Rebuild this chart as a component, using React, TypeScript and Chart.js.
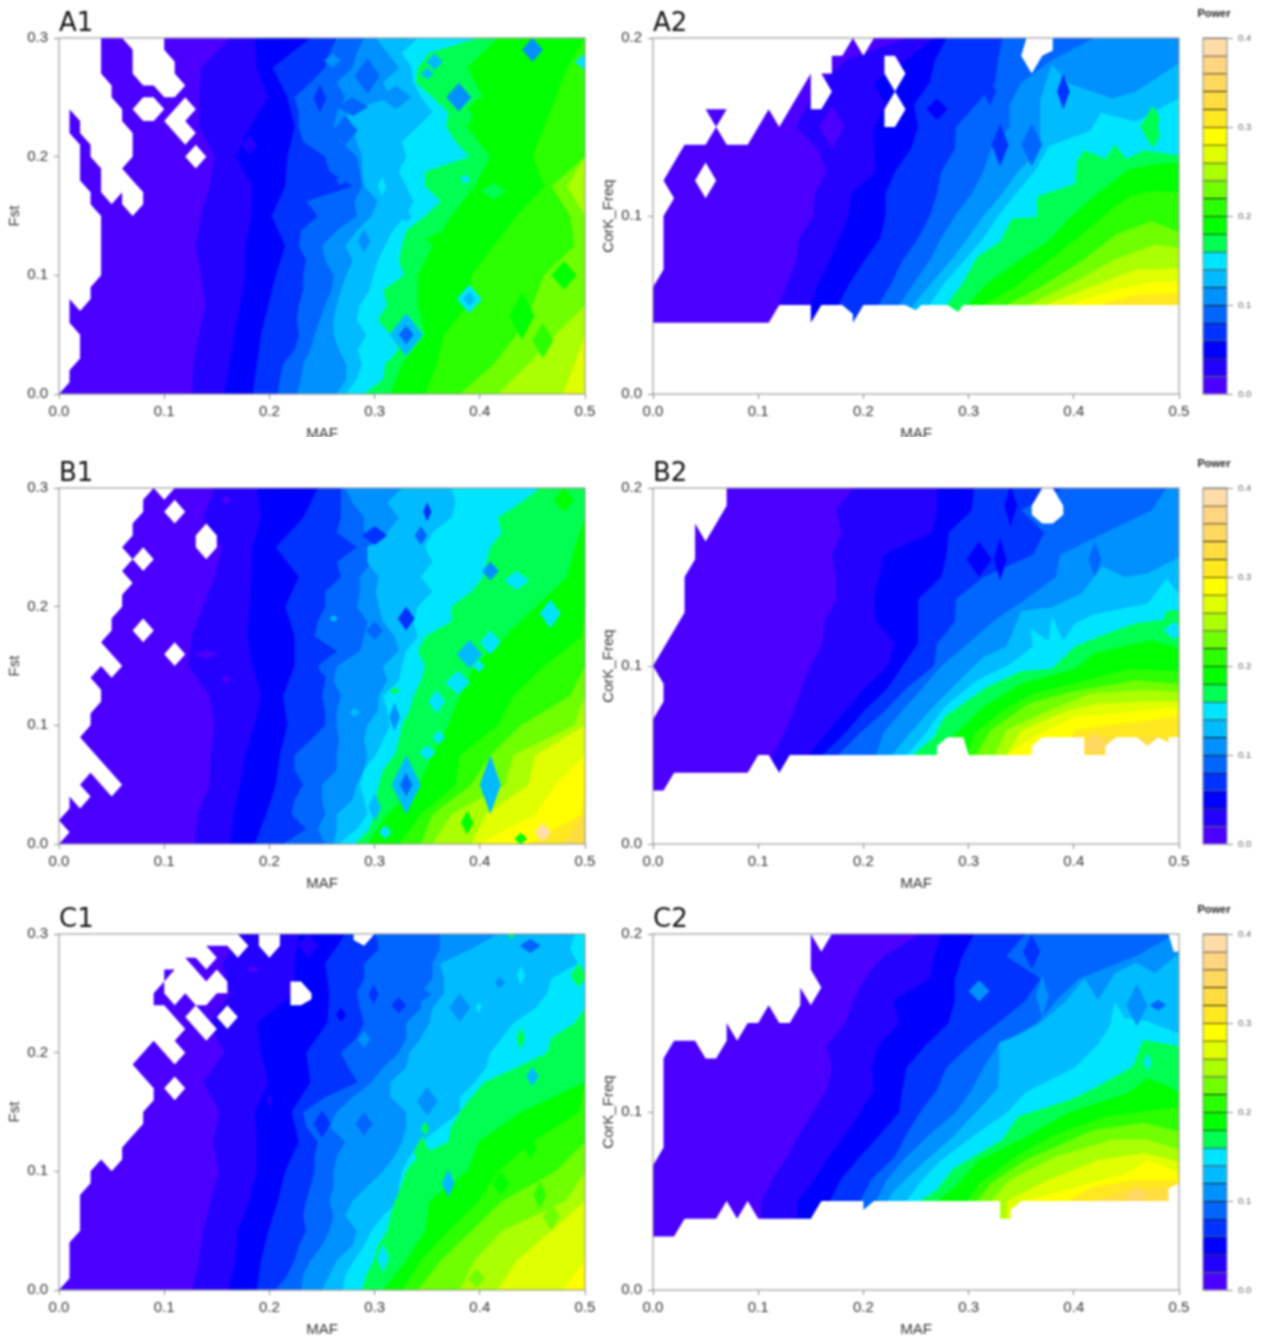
import { useEffect, useRef } from "react";
import { Chart, registerables } from "chart.js";

Chart.register(...registerables);

// ---------- shared data ----------
const LEVEL_COLORS = [
  "#4B00FF", "#2400FF", "#0000FF", "#0033FF", "#0066FF", "#0090FF", "#00BBFF", "#00E5FF", "#00FF50", "#00FF00",
  "#2BFF00", "#70FF00", "#AAFF00", "#E0FF00", "#FFFF00", "#FFE820", "#FFDD40", "#FFD860", "#FFD580", "#FFDDA8",
];
const POWER_STEP = 0.02;
const MAF_TICKS = [0, 0.1, 0.2, 0.3, 0.4, 0.5];
const FST_TICKS = [0, 0.1, 0.2, 0.3];
const FREQ_TICKS = [0, 0.1, 0.2];
const POWER_TICKS = [0, 0.1, 0.2, 0.3, 0.4];
const FST_SAMPLES = [0, 0.025, 0.05, 0.075, 0.1, 0.125, 0.15, 0.175, 0.2, 0.225, 0.25, 0.275, 0.3];
const FST_FINE = [0, 0.0125, 0.025, 0.0375, 0.05, 0.0625, 0.075, 0.0875, 0.1, 0.1125, 0.125, 0.1375, 0.15, 0.1625, 0.175, 0.1875, 0.2, 0.2125, 0.225, 0.2375, 0.25, 0.2625, 0.275, 0.2875, 0.3];
const FREQ_SAMPLES = [0.05, 0.0625, 0.075, 0.0875, 0.1, 0.1125, 0.125, 0.1375, 0.15, 0.1625, 0.175, 0.1875, 0.2];

// Contours per level (0.02, 0.04, ...): MAF at each y sample (13 coarse or 14+ fine samples), or [MAF, y] vertices
const A1_CONTOURS: any[] = [
  [.126,.128,.133,.139,.135,.130,.135,.143,.148,.133,.133,.135,.163],
  [.157,.162,.167,.172,.177,.177,.183,.184,.168,.181,.199,.188,.186],
  [.184,.188,.192,.199,.206,.215,.202,.215,.217,.224,.217,.203,.239],
  [.208,.21,.213,.224,.228,.226,.228,.232,.232,.235,.228,.23,.246,.235,.279,.257,.253,.232,.228,.228,.224,.239,.253,.257,.264],
  [.226,.23,.232,.239,.243,.248,.253,.259,.261,.253,.25,.264,.283,.281,.288,.286,.283,.268,.261,.264,.272,.264,.279,.283,.29],
  [.264,.273,.273,.266,.261,.261,.264,.268,.273,.279,.272,.283,.297,.303,.29,.288,.288,.283,.279,.273,.315,.308,.323,.312,.301],
  [.273,.283,.288,.284,.292,.283,.286,.295,.299,.303,.31,.317,.33,.337,.33,.323,.33,.326,.341,.355,.344,.337,.335,.326,.341],
  [.290,.308,.310,.323,.315,.303,.312,.308,.328,.323,.326,.330,.348,.363,.348,.348,.390,.377,.368,.370,.355,.339,.341,.352,.399],
  [.315,.326,.348,.341,.341,.355,.373,.395,.410,.388,.403,.388,.417],
  [.348,.359,.366,.388,.392,.413,.435,.461,.450,.461,.472,.483,.500],
  [.381,.413,.435,.450,.461,.490,.486,.468,.500],
  [.417,.446,.472,.500,.500,.500,.500,.483,.500],
  [.479,.490,.500],
];
const A2_CONTOURS: any[] = [
  [.119,.128,.136,.139,.152,.154,.165,.157,.136,.147,.161,.183,.241],
  [.150,.157,.168,.177,.186,.188,.212,.210,.210,.221,.210,.241,.267],
  [.176,.187,.201,.216,.221,.221,.230,.245,.252,.248,.263,.268,.279],
  [.214,.227,.237,.252,.263,.270,.274,.287,.288,.307,.325,.328,.332],
  [.234,.248,.263,.274,.287,.303,.314,.321,.339,.339,.350,.379,.419],
  [[.247,.05],[.265,.0625],[.283,.075],[.299,.0875],[.314,.1],[.332,.1125],[.347,.125],[.368,.1375],[.368,.165],[.379,.185],[.397,.174],[.437,.166],[.459,.17],[.5,.186]],
  [[.263,.05],[.277,.0625],[.296,.075],[.314,.0875],[.328,.1],[.345,.1125],[.365,.127],[.376,.139],[.416,.148],[.426,.158],[.459,.153],[.477,.159],[.5,.166]],
  [[.279,.05],[.294,.062],[.308,.077],[.330,.0855],[.341,.0985],[.365,.0995],[.365,.111],[.401,.118],[.403,.131],[.410,.137],[.430,.132],[.439,.140],[.450,.132],[.467,.137],[.5,.134]],
  [[.299,.05],[.317,.062],[.343,.073],[.376,.086],[.397,.0995],[.419,.111],[.452,.126],[.474,.129],[.5,.130]],
  [[.314,.05],[.343,.06],[.376,.075],[.408,.09],[.434,.103],[.452,.111],[.474,.114],[.5,.1135]],
  [[.336,.05],[.368,.06],[.408,.075],[.441,.09],[.474,.097],[.5,.091]],
  [[.357,.05],[.397,.062],[.437,.075],[.477,.084],[.5,.082]],
  [[.372,.05],[.416,.06],[.459,.07],[.5,.0705]],
  [[.394,.05],[.437,.058],[.477,.063],[.5,.063]],
  [[.423,.05],[.459,.0555],[.5,.0565]],
];
const B1_CONTOURS: any[] = [
  [.129,.132,.143,.144,.148,.143,.123,.126,.137,.148,.155,.137,.148],
  [.163,.166,.172,.177,.186,.192,.184,.179,.181,.183,.184,.192,.188],
  [.186,.197,.206,.210,.217,.213,.224,.224,.215,.228,.206,.232,.246],
  [.213,.235,.221,.224,.232,.224,.224,.239,.253,.253,.25,.253,.246,.264,.243,.246,.253,.253,.268,.264,.283,.264,.268,.268,.268],
  [.253,.246,.253,.25,.25,.264,.264,.266,.264,.264,.268,.261,.264,.286,.29,.293,.283,.286,.286,.297,.304,.29,.29,.279,.272],
  [.261,.264,.264,.279,.283,.29,.293,.29,.293,.303,.304,.312,.308,.323,.319,.308,.304,.301,.304,.293,.293,.312,.323,.312,.326],
  [.266,.283,.293,.29,.286,.29,.301,.308,.315,.312,.308,.323,.326,.33,.341,.337,.341,.355,.344,.355,.348,.355,.373,.377,.373],
  [.281,.295,.299,.301,.304,.308,.319,.323,.326,.333,.337,.344,.348,.341,.348,.373,.373,.392,.403,.406,.41,.421,.417,.439,.457],
  [.293,.312,.341,.355,.370,.381,.395,.424,.453,.483,.490,.500],
  [.323,.344,.377,.381,.417,.432,.461,.497,.500],
  [.344,.355,.392,.410,.439,.486,.500],
  [.355,.373,.424,.432,.490,.500],
  [.392,.406,.446,.453,.500],
  [.399,.453,.472,.500],
  [.446,.497,.500],
  [.479,.500],
];
const B2_CONTOURS: any[] = [
  [.114,.125,.134,.141,.150,.161,.163,.174,.174,.170,.179,.174,.190],
  [.148,.165,.183,.201,.223,.230,.212,.210,.215,.219,.265,.270,.270],
  [.161,.183,.201,.223,.237,.252,.252,.252,.274,.279,.281,.303,.305],
  [.176,.197,.221,.241,.267,.270,.287,.288,.314,.361,.372,.350,.390],
  [.212,.219,.237,.256,.274,.299,.323,.354,.383,.387,.430,.474,.488],
  [[.227,.05],[.241,.06],[.263,.075],[.288,.09],[.314,.105],[.336,.111],[.350,.131],[.379,.133],[.408,.141],[.427,.156],[.448,.15],[.470,.152],[.5,.161]],
  [[.241,.05],[.259,.062],[.277,.077],[.308,.092],[.339,.101],[.361,.111],[.359,.121],[.376,.114],[.379,.128],[.390,.114],[.401,.124],[.419,.129],[.452,.133],[.470,.135],[.488,.149],[.5,.1405]],
  [[.247,.05],[.267,.06],[.277,.0715],[.317,.088],[.350,.097],[.379,.0985],[.401,.111],[.430,.118],[.459,.124],[.485,.126],[.488,.131],[.5,.1315]],
  [[.270,.05],[.281,.058],[.314,.077],[.350,.09],[.401,.0985],[.419,.107],[.474,.1145],[.5,.11]],
  [[.299,.05],[.305,.062],[.332,.075],[.361,.0845],[.412,.092],[.452,.0985],[.5,.097]],
  [[.307,.05],[.321,.064],[.357,.079],[.397,.0855],[.459,.092],[.5,.09]],
  [[.325,.05],[.336,.064],[.376,.075],[.416,.0845],[.467,.0865],[.5,.0855]],
  [[.336,.05],[.35,.064],[.394,.075],[.423,.079],[.467,.08],[.5,.08]],
  [[.336,.05],[.361,.06],[.401,.0715],[.437,.0735],[.5,.077]],
  [[.387,.05],[.401,.064],[.437,.067],[.5,.0715]],
  [[.409,.05],[.415,.062],[.44,.06],[.5,.06]],
];
const C1_CONTOURS: any[] = [
  [.127,.133,.137,.144,.152,.146,.153,.137,.157,.143,.163,.155,.173],
  [.161,.168,.170,.181,.188,.188,.186,.199,.192,.188,.224,.224,.228],
  [.188,.192,.199,.208,.215,.228,.221,.239,.235,.255,.257,.253,.272],
  [.206,.217,.224,.228,.235,.232,.235,.239,.243,.243,.246,.235,.232,.253,.284,.275,.268,.283,.29,.286,.283,.29,.29,.304,.301],
  [.23,.232,.239,.25,.257,.261,.257,.261,.261,.264,.272,.257,.264,.279,.297,.308,.323,.33,.33,.344,.344,.355,.355,.362,.362],
  [.25,.257,.264,.279,.283,.272,.279,.293,.308,.319,.326,.33,.33,.315,.315,.33,.333,.344,.352,.355,.366,.366,.362,.392,.417],
  [.27,.272,.281,.29,.297,.308,.323,.323,.326,.333,.344,.363,.381,.381,.395,.406,.41,.421,.432,.453,.464,.468,.493,.486,.49],
  [.288,.292,.299,.303,.312,.315,.319,.325,.33,.341,.37,.373,.381,.392,.404,.435,.464,.468,.49,.5,.5,.5,.5,.5,.5],
  [.308,.330,.348,.352,.388,.399,.439,.500],
  [.326,.344,.370,.399,.417,.450,.494,.500],
  [.341,.363,.392,.421,.472,.500],
  [.381,.395,.421,.482,.500],
  [.417,.435,.468,.500],
  [.479,.500],
];
const C2_CONTOURS: any[] = [
  [.103,.114,.128,.139,.152,.165,.170,.165,.183,.190,.201,.219,.254],
  [.137,.154,.167,.183,.197,.210,.208,.214,.234,.228,.263,.267,.274],
  [.168,.179,.197,.216,.234,.237,.241,.259,.281,.287,.287,.294,.305],
  [.197,.208,.230,.241,.254,.270,.279,.301,.328,.354,.368,.336,.354],
  [.212,.223,.241,.263,.288,.303,.314,.328,.365,.383,.405,.459,.496],
  [[.223,.05],[.230,.0565],[.256,.071],[.285,.086],[.307,.1],[.328,.1135],[.329,.124],[.329,.139],[.35,.144],[.368,.15],[.39,.161],[.41,.175],[.423,.163],[.439,.178],[.459,.184],[.477,.178],[.5,.189]],
  [[.241,.05],[.256,.062],[.274,.073],[.308,.088],[.336,.0995],[.354,.111],[.401,.125],[.423,.138],[.434,.148],[.439,.162],[.448,.153],[.470,.151],[.5,.144]],
  [[.254,.05],[.27,.0565],[.285,.068],[.332,.0845],[.347,.0975],[.397,.107],[.423,.1145],[.456,.1255],[.466,.1405],[.5,.137]],
  [[.27,.05],[.287,.058],[.31,.073],[.35,.0845],[.394,.0995],[.452,.111],[.47,.119],[.489,.1145],[.5,.111]],
  [[.299,.05],[.31,.06],[.35,.077],[.379,.0865],[.43,.0975],[.5,.103]],
  [[.308,.05],[.321,.06],[.354,.073],[.419,.09],[.467,.094],[.5,.089]],
  [[.321,.05],[.339,.062],[.383,.075],[.437,.0845],[.47,.0845],[.5,.079]],
  [[.336,.05],[.376,.062],[.423,.073],[.467,.077],[.5,.072]],
  [[.354,.05],[.394,.0565],[.452,.066],[.47,.073],[.5,.066]],
  [[.394,.05],[.416,.0575],[.459,.062],[.496,.062],[.5,.06]],
  [[.419,.05],[.452,.0565],[.5,.058]],
];

// small closed contours: [level index, MAF, y, half-width, half-height]
const A1_ISLANDS = [[6,.33,.05,.016,.018],[4,.33,.05,.007,.008],[5,.38,.25,.012,.012],[5,.45,.29,.01,.01],[7,.39,.08,.012,.012],[6,.39,.08,.006,.006],[4,.272,.222,.012,.012],[3,.23,.281,.004,.012],[7,.5,.28,.01,.007],[8,.413,.171,.012,.007],[9,.44,.066,.012,.02],[10,.46,.045,.01,.015],[9,.48,.10,.012,.012],[9,.39,.14,.012,.012],[9,.36,.13,.012,.006],[7,.386,.181,.005,.004],[7,.307,.175,.004,.008],[4,.268,.18,.005,.004],[5,.29,.129,.006,.01],[6,.33,.15,.006,.005],[9,.435,.247,.012,.008],[9,.40,.24,.012,.01],[9,.428,.27,.012,.012],[6,.357,.28,.008,.007],[6,.35,.27,.006,.005],[3,.248,.249,.006,.012],[5,.26,.281,.008,.006],[4,.293,.268,.012,.015],[5,.32,.25,.015,.01],[1,.181,.21,.008,.008],[1,.161,.26,.004,.003],[4,.279,.242,.015,.008]];
const A2_ISLANDS = [[8,.475,.15,.012,.012],[7,.484,.15,.004,.012],[2,.27,.16,.01,.006],[3,.32,.17,.006,.008],[3,.33,.14,.008,.012],[5,.36,.15,.008,.006],[4,.36,.14,.01,.012],[3,.39,.17,.006,.01],[0,.17,.15,.012,.012]];
const B1_ISLANDS = [[6,.33,.05,.014,.025],[4,.33,.05,.006,.01],[6,.41,.05,.01,.025],[7,.41,.17,.01,.01],[6,.39,.16,.012,.012],[3,.33,.19,.008,.01],[4,.3,.18,.008,.008],[3,.3,.26,.012,.008],[8,.441,.27,.012,.012],[9,.48,.29,.01,.01],[5,.41,.23,.008,.008],[7,.467,.194,.01,.012],[7,.435,.222,.012,.008],[19,.46,.01,.008,.008],[7,.399,.15,.006,.005],[7,.379,.136,.012,.01],[7,.359,.12,.008,.01],[8,.319,.129,.005,.003],[6,.3,.031,.006,.012],[7,.31,.01,.006,.006],[6,.261,.19,.004,.003],[4,.344,.26,.006,.008],[3,.35,.28,.004,.008],[3,.25,.14,.004,.004],[0,.159,.139,.005,.004],[0,.159,.29,.005,.004],[0,.14,.16,.012,.004],[5,.319,.107,.005,.012],[6,.281,.111,.005,.004],[7,.361,.09,.006,.006],[7,.35,.077,.008,.006],[9,.388,.018,.006,.01],[9,.439,.0045,.006,.005]];
const B2_ISLANDS = [[2,.31,.16,.012,.01],[2,.33,.16,.006,.012],[2,.34,.19,.006,.012],[4,.42,.16,.006,.01],[17,.42,.056,.012,.006],[7,.495,.12,.01,.005]];
const C1_ISLANDS = [[3,.25,.14,.008,.012],[4,.29,.14,.008,.01],[8,.345,.116,.008,.014],[8,.348,.136,.004,.006],[6,.37,.09,.006,.012],[4,.339,.27,.006,.012],[5,.35,.159,.01,.012],[5,.381,.238,.01,.012],[5,.419,.259,.005,.005],[1,.237,.29,.01,.01],[7,.308,.027,.006,.012],[4,.448,.29,.01,.006],[4,.344,.249,.01,.006],[3,.299,.249,.005,.008],[3,.323,.24,.007,.007],[2,.268,.232,.005,.006],[5,.29,.211,.006,.007],[6,.382,.209,.008,.006],[6,.317,.08,.006,.005],[11,.397,.01,.008,.008],[11,.468,.062,.008,.012],[10,.457,.08,.006,.012],[9,.42,.09,.008,.01],[9,.448,.12,.006,.01],[6,.45,.18,.006,.008],[8,.439,.212,.004,.01],[7,.399,.238,.003,.005],[7,.439,.265,.004,.008],[8,.494,.265,.008,.01],[0,.184,.27,.006,.003],[1,.2,.16,.003,.006],[8,.43,.3,.004,.004]];
const C2_ISLANDS = [[5,.31,.168,.01,.006],[5,.37,.165,.006,.012],[5,.46,.16,.01,.012],[4,.48,.16,.008,.003],[3,.36,.19,.008,.01],[7,.47,.128,.004,.005],[17,.46,.053,.012,.005]];

// areas with no data
const A1_EMPTY = [
  [[0,0],[.01,.01],[.01,.02],[.02,.03],[.02,.05],[.01,.06],[.01,.08],[.02,.07],[.03,.08],[.03,.09],[.04,.10],[.04,.15],[.03,.16],[.03,.17],[.02,.18],[.02,.21],[.01,.22],[.01,.24],[.02,.23],[.02,.22],[.03,.21],[.03,.20],[.04,.19],[.04,.17],[.05,.16],[.06,.17],[.06,.16],[.07,.15],[.08,.16],[.08,.17],[.07,.18],[.06,.19],[.07,.20],[.07,.22],[.06,.23],[.06,.24],[.05,.25],[.05,.26],[.04,.27],[.04,.30],[0,.30]],
  [[.06,.30],[.07,.29],[.07,.27],[.08,.26],[.09,.26],[.10,.25],[.11,.25],[.12,.26],[.11,.27],[.11,.28],[.10,.29],[.10,.30]],
  [[.07,.24],[.08,.25],[.09,.25],[.10,.24],[.09,.23],[.08,.23]],
  [[.12,.25],[.13,.24],[.12,.23],[.13,.22],[.12,.21],[.10,.23]],
  [[.14,.2],[.13,.21],[.12,.2],[.13,.19]],
];
const A2_EMPTY = [
  [[0,.2],[0,.06],[.01,.07],[.01,.10],[.02,.11],[.01,.12],[.03,.14],[.05,.14],[.06,.15],[.05,.16],[.07,.16],[.06,.15],[.07,.14],[.09,.14],[.11,.16],[.12,.15],[.15,.18],[.15,.16],[.16,.16],[.17,.17],[.16,.18],[.17,.18],[.17,.19],[.18,.19],[.19,.20],[.2,.19],[.21,.2]],
  [[.06,.12],[.05,.13],[.04,.12],[.05,.11]],
  [[.22,.19],[.23,.19],[.24,.18],[.23,.17],[.24,.16],[.23,.15],[.22,.15],[.22,.16],[.23,.17],[.22,.18]],
  [[.355,.2],[.38,.2],[.38,.193],[.37,.19],[.36,.18],[.35,.19]],
  [[0,0],[.5,0],[.5,.05],[.295,.05],[.29,.046],[.28,.05],[.255,.05],[.25,.047],[.24,.05],[.2,.05],[.19,.04],[.19,.045],[.18,.05],[.16,.05],[.15,.04],[.15,.05],[.12,.05],[.11,.04],[0,.04]],
];
const B1_EMPTY = [
  [[0,0],[.01,.01],[0,.02],[.01,.03],[.01,.04],[.02,.03],[.03,.04],[.02,.05],[.03,.06],[.05,.04],[.06,.05],[.02,.09],[.03,.10],[.03,.11],[.04,.12],[.04,.13],[.03,.14],[.04,.15],[.05,.14],[.06,.15],[.04,.17],[.05,.18],[.05,.19],[.06,.20],[.06,.21],[.07,.22],[.06,.23],[.07,.24],[.06,.25],[.07,.26],[.07,.27],[.08,.28],[.08,.29],[.09,.30],[.10,.29],[.11,.30],[0,.30]],
  [[.12,.28],[.11,.29],[.10,.28],[.11,.27]],
  [[.14,.27],[.15,.26],[.15,.25],[.14,.24],[.13,.25],[.13,.26]],
  [[.09,.24],[.08,.25],[.07,.24],[.08,.23]],
  [[.09,.18],[.08,.19],[.07,.18],[.08,.17]],
  [[.12,.16],[.11,.17],[.10,.16],[.11,.15]],
];
const B2_EMPTY = [
  [[0,0],[.5,0],[.5,.06],[.49,.06],[.49,.057],[.48,.06],[.47,.055],[.46,.06],[.44,.06],[.43,.055],[.43,.05],[.41,.05],[.41,.06],[.37,.06],[.36,.055],[.36,.05],[.30,.05],[.295,.06],[.28,.06],[.27,.055],[.27,.05],[.13,.05],[.12,.04],[.11,.05],[.10,.05],[.09,.04],[.02,.04],[.01,.03],[0,.03]],
  [[0,.2],[0,.07],[.01,.08],[.01,.09],[0,.10],[.03,.13],[.03,.15],[.04,.16],[.04,.18],[.05,.17],[.07,.19],[.07,.2]],
  [[.37,.2],[.38,.2],[.39,.19],[.39,.185],[.38,.18],[.37,.18],[.36,.185],[.36,.19]],
];
const C1_EMPTY = [
  [[0,0],[.01,.01],[.01,.04],[.02,.05],[.02,.08],[.03,.09],[.03,.10],[.04,.11],[.05,.10],[.06,.11],[.06,.12],[.08,.14],[.08,.15],[.09,.16],[.09,.17],[.07,.19],[.09,.21],[.11,.19],[.12,.20],[.11,.21],[.12,.22],[.10,.24],[.09,.24],[.09,.25],[.10,.26],[.10,.27],[.11,.27],[.10,.26],[.10,.25],[.11,.24],[.12,.25],[.13,.24],[.14,.24],[.15,.25],[.16,.25],[.16,.26],[.15,.27],[.14,.26],[.12,.28],[.13,.28],[.14,.27],[.15,.28],[.14,.29],[.16,.29],[.17,.28],[.18,.29],[.17,.30],[0,.30]],
  [[.13,.24],[.15,.22],[.14,.21],[.12,.23]],
  [[.17,.23],[.16,.24],[.15,.23],[.16,.22]],
  [[.12,.17],[.11,.18],[.10,.17],[.11,.16]],
  [[.19,.3],[.21,.3],[.21,.29],[.2,.28],[.19,.29]],
  [[.22,.26],[.23,.26],[.24,.25],[.24,.245],[.23,.24],[.22,.24]],
  [[.28,.3],[.30,.3],[.29,.29],[.28,.295]],
];
const C2_EMPTY = [
  [[0,.2],[0,.07],[.01,.08],[.01,.13],[.02,.14],[.04,.14],[.05,.13],[.06,.13],[.07,.14],[.07,.15],[.08,.14],[.09,.15],[.10,.15],[.11,.16],[.12,.15],[.13,.15],[.14,.16],[.14,.17],[.15,.16],[.16,.17],[.15,.18],[.15,.2],[.16,.19],[.17,.2]],
  [[.49,.2],[.495,.19],[.5,.19],[.5,.2]],
  [[0,0],[.5,0],[.5,.06],[.49,.057],[.49,.05],[.35,.05],[.34,.045],[.34,.04],[.33,.04],[.33,.05],[.32,.05],[.21,.05],[.2,.045],[.2,.05],[.19,.05],[.16,.05],[.15,.04],[.1,.04],[.09,.05],[.08,.04],[.07,.05],[.06,.04],[.03,.04],[.02,.03],[0,.03]],
];

// ---------- chart config ----------
const FONT = "'Liberation Sans', Arial, sans-serif";
const FRAME = "#8c8c8c";
const BLUR = "blur(0.8px)";

const framePlugin = {
  id: "frame",
  afterDatasetsDraw(chart: any) {
    const { ctx, chartArea: a } = chart;
    ctx.save();
    ctx.strokeStyle = FRAME;
    ctx.lineWidth = 1;
    ctx.strokeRect(a.left, a.top, a.right - a.left, a.bottom - a.top);
    ctx.restore();
  },
};

function polygonDataset(points: { x: number; y: number }[], color: string, order: number) {
  return {
    data: points,
    showLine: true,
    fill: "shape",
    backgroundColor: color,
    borderColor: "transparent",
    borderWidth: 0,
    pointRadius: 0,
    pointHoverRadius: 0,
    tension: 0,
    order,
  };
}

function buildDatasets(samples: number[], fine: number[], contours: any[], islands: number[][], empty: number[][][], yMax: number) {
  const polys: { points: { x: number; y: number }[]; color: string }[] = [];
  polys.push({
    points: [{ x: 0, y: 0 }, { x: 0.5, y: 0 }, { x: 0.5, y: yMax }, { x: 0, y: yMax }],
    color: LEVEL_COLORS[0],
  });
  const bottom = samples[0] - 0.02;
  contours.forEach((curve, i) => {
    const rows = curve.length > samples.length ? fine : samples;
    const pts = Array.isArray(curve[0])
      ? curve.map(([x, y]: number[]) => ({ x, y }))
      : rows.map((y, k) => ({ x: curve[k] ?? 0.5, y }));
    polys.push({
      points: [{ x: pts[0].x, y: bottom }, ...pts, { x: 0.5, y: yMax }, { x: 0.5, y: bottom }],
      color: LEVEL_COLORS[i + 1],
    });
  });
  islands.forEach(([lvl, cx, cy, rx, ry]) => {
    polys.push({
      points: [{ x: cx + rx, y: cy }, { x: cx, y: cy + ry }, { x: cx - rx, y: cy }, { x: cx, y: cy - ry }],
      color: LEVEL_COLORS[lvl],
    });
  });
  empty.forEach((poly) => {
    polys.push({ points: poly.map(([x, y]) => ({ x, y })), color: "#ffffff" });
  });
  return polys.map((p, i) => polygonDataset(p.points, p.color, polys.length - i));
}

function axisBase(ticks: number[], size: number, horizontal: boolean, title: string, max: number) {
  return {
    type: "linear",
    min: 0,
    max,
    afterBuildTicks: (s: any) => {
      s.ticks = ticks.map((value) => ({ value }));
    },
    afterFit: (s: any) => {
      if (horizontal) s.height = size;
      else s.width = size;
    },
    grid: { drawOnChartArea: false, drawTicks: true, tickLength: 5, tickColor: FRAME },
    border: { display: false },
    ticks: {
      autoSkip: false,
      maxRotation: 0,
      padding: horizontal ? 4 : 6,
      color: "#333333",
      font: { family: FONT, size: 15 },
      callback: (v: any) => Number(v).toFixed(1),
    },
    title: {
      display: true,
      text: title,
      color: "#333333",
      font: { family: FONT, size: 15 },
      padding: horizontal ? { top: 0, bottom: 1 } : { top: 6, bottom: 0 },
    },
  };
}

function Panel(props: {
  name: string; left: number; top: number; clip: number; yTitle: string; yTicks: number[]; samples: number[]; fine: number[];
  contours: any[]; islands: number[][]; empty: number[][][];
}) {
  const ref = useRef<HTMLCanvasElement>(null);
  useEffect(() => {
    const yMax = props.yTicks[props.yTicks.length - 1];
    const chart = new Chart(ref.current as any, {
      type: "scatter",
      data: { datasets: buildDatasets(props.samples, props.fine, props.contours, props.islands, props.empty, yMax) as any },
      plugins: [framePlugin],
      options: {
        animation: false,
        responsive: false,
        events: [],
        layout: { padding: { right: 15 } },
        scales: {
          x: axisBase(MAF_TICKS, 50, true, "MAF", 0.5) as any,
          y: axisBase(props.yTicks, 59, false, props.yTitle, yMax) as any,
        },
        plugins: {
          legend: { display: false },
          tooltip: { enabled: false },
          title: {
            display: true,
            text: props.name,
            align: "start",
            fullSize: false,
            color: "#111111",
            font: { family: "'DejaVu Sans'", size: 26, weight: "normal", lineHeight: 1 },
            padding: { top: 11, bottom: 1 },
          },
        },
      },
    } as any);
    return () => chart.destroy();
  }, []);
  return (
    <div style={{ position: "absolute", left: props.left, top: props.top, width: 600, height: props.clip, overflow: "hidden" }}>
      <canvas ref={ref} width={600} height={444} style={{ display: "block", filter: BLUR }} />
    </div>
  );
}

function ColorBar(props: { top: number }) {
  const ref = useRef<HTMLCanvasElement>(null);
  useEffect(() => {
    const chart = new Chart(ref.current as any, {
      type: "bar",
      data: {
        labels: ["Power"],
        datasets: LEVEL_COLORS.map((color) => ({
          data: [POWER_STEP],
          backgroundColor: color,
          borderColor: "#222222",
          borderWidth: { top: 1, right: 0, bottom: 0, left: 0 },
          borderSkipped: false,
          barPercentage: 1,
          categoryPercentage: 1,
          stack: "power",
          yAxisID: "y",
        })),
      } as any,
      plugins: [framePlugin],
      options: {
        animation: false,
        responsive: false,
        events: [],
        layout: { padding: { bottom: 6 } },
        scales: {
          x: { display: false, stacked: true },
          spacer: {
            position: "left",
            display: true,
            min: 0,
            max: 1,
            ticks: { display: false },
            grid: { display: false },
            border: { display: false },
            afterFit: (s: any) => {
              s.width = 37;
            },
          },
          y: {
            position: "right",
            stacked: true,
            min: 0,
            max: 0.4,
            afterBuildTicks: (s: any) => {
              s.ticks = POWER_TICKS.map((value) => ({ value }));
            },
            afterFit: (s: any) => {
              s.width = 35;
            },
            grid: { drawOnChartArea: false, drawTicks: true, tickLength: 6, tickColor: FRAME },
            border: { display: false },
            ticks: {
              padding: 5,
              color: "#666666",
              font: { family: FONT, size: 9.5 },
              callback: (v: any) => Number(v).toFixed(1),
            },
          },
        },
        plugins: {
          legend: { display: false },
          tooltip: { enabled: false },
          title: {
            display: true,
            text: "Power",
            fullSize: true,
            color: "#222222",
            font: { family: FONT, size: 11, weight: "bold", lineHeight: 1 },
            padding: { top: 8, bottom: 19 },
          },
        },
      },
    } as any);
    return () => chart.destroy();
  }, []);
  return (
    <canvas
      ref={ref}
      width={96}
      height={405}
      style={{ position: "absolute", left: 1166, top: props.top, filter: BLUR }}
    />
  );
}

export default function App() {
  return (
    <div style={{ position: "absolute", left: 0, top: 0, width: 1262, height: 1340, background: "#fff", overflow: "hidden" }}>
      <Panel name="A1" left={0} top={0} clip={437} yTitle="Fst" yTicks={FST_TICKS} samples={FST_SAMPLES} fine={FST_FINE} contours={A1_CONTOURS} islands={A1_ISLANDS} empty={A1_EMPTY} />
      <Panel name="A2" left={594} top={0} clip={437} yTitle="CorK_Freq" yTicks={FREQ_TICKS} samples={FREQ_SAMPLES} fine={FREQ_SAMPLES} contours={A2_CONTOURS} islands={A2_ISLANDS} empty={A2_EMPTY} />
      <ColorBar top={0} />
      <Panel name="B1" left={0} top={450} clip={444} yTitle="Fst" yTicks={FST_TICKS} samples={FST_SAMPLES} fine={FST_FINE} contours={B1_CONTOURS} islands={B1_ISLANDS} empty={B1_EMPTY} />
      <Panel name="B2" left={594} top={450} clip={444} yTitle="CorK_Freq" yTicks={FREQ_TICKS} samples={FREQ_SAMPLES} fine={FREQ_SAMPLES} contours={B2_CONTOURS} islands={B2_ISLANDS} empty={B2_EMPTY} />
      <ColorBar top={450} />
      <Panel name="C1" left={0} top={896} clip={444} yTitle="Fst" yTicks={FST_TICKS} samples={FST_SAMPLES} fine={FST_FINE} contours={C1_CONTOURS} islands={C1_ISLANDS} empty={C1_EMPTY} />
      <Panel name="C2" left={594} top={896} clip={444} yTitle="CorK_Freq" yTicks={FREQ_TICKS} samples={FREQ_SAMPLES} fine={FREQ_SAMPLES} contours={C2_CONTOURS} islands={C2_ISLANDS} empty={C2_EMPTY} />
      <ColorBar top={896} />
    </div>
  );
}
